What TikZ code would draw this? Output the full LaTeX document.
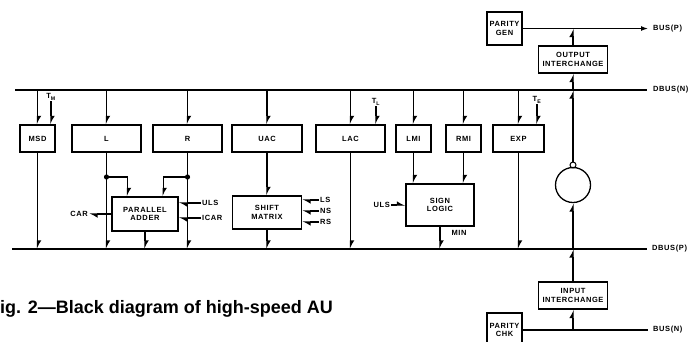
\documentclass[tikz,border=0pt]{standalone}
\usepackage{fontspec}
\setmainfont{Liberation Sans}
\newfontfamily\lblfont[LetterSpace=8]{Liberation Sans}
\usetikzlibrary{positioning,arrows.meta,calc}

\begin{document}
\begin{tikzpicture}[x=1pt,y=-1pt,
  font=\lblfont\bfseries\fontsize{7.5}{8.5}\selectfont,
  blk/.style={draw,line width=1.3pt,minimum height=27pt,inner sep=1pt,align=center},
  a/.style={-{Latex[harpoon,length=7pt,width=8pt]},line width=1.2pt},
  ln/.style={line width=1.2pt},
  bus/.style={line width=1.3pt},
  lbl/.style={inner sep=1pt}
]
\clip (0,0) rectangle (696,341);
% buses
\coordinate (nw) at (15,90); \coordinate (ne) at (647,90);
\coordinate (pw) at (12,249); \coordinate (pe) at (647,249);
\coordinate (bpe) at (648,28.5); \coordinate (bpn) at (648,330);
\draw[bus] (nw) -- (ne); \draw[bus] (pw) -- (pe);
\node[lbl,anchor=west] (dbn) at ($(ne)+(5,0)$) {DBUS(N)};
\node[lbl,anchor=west] (dbp) at ($(pe)+(4,0)$) {DBUS(P)};
\node[lbl,anchor=west] (bp) at ($(bpe)+(4,0)$) {BUS(P)};
\node[lbl,anchor=west] (bn) at ($(bpn)+(4,0)$) {BUS(N)};
% registers
\node[blk,minimum width=35pt] (msd) at (37.5,138.5) {MSD};
\node[blk,minimum width=69pt] (l) at (106.5,138.5) {L};
\node[blk,minimum width=69pt] (r) at (187.5,138.5) {R};
\node[blk,minimum width=70pt] (uac) at (267,138.5) {UAC};
\node[blk,minimum width=69pt] (lac) at (350.5,138.5) {LAC};
\node[blk,minimum width=35pt] (lmi) at (413.5,138.5) {LMI};
\node[blk,minimum width=35pt] (rmi) at (463.5,138.5) {RMI};
\node[blk,minimum width=51pt] (exp) at (518.5,138.5) {EXP};
% logic
\node[blk,minimum width=66pt,minimum height=34pt] (add) at (145,214) {PARALLEL\\ADDER};
\node[blk,minimum width=69pt,minimum height=33pt] (shm) at (267,212.5) {SHIFT\\MATRIX};
\node[blk,minimum width=68pt,minimum height=42pt] (sgn) at (440,205) {SIGN\\LOGIC};
\node[blk,minimum width=35pt,minimum height=33pt,inner sep=0pt] (pgen) at (504.5,28.5) {PARITY\\GEN};
\node[blk,minimum width=69pt] (oxc) at (573,59.5) {OUTPUT\\INTERCHANGE};
\node[blk,minimum width=69pt] (ixc) at (573,295.5) {INPUT\\INTERCHANGE};
\node[blk,minimum width=35pt,minimum height=34pt,inner sep=0pt] (pchk) at (504.5,330) {PARITY\\CHK};
\node[draw,circle,line width=1.3pt,minimum size=35pt,inner sep=0] (rot) at (573,185) {};
\node[draw,circle,line width=1pt,minimum size=6pt,inner sep=0] (rng) at (573,165) {};
% timing inputs
\node[lbl] (tm) at (51,97) {T\textsubscript{M}};
\node[lbl] (tl) at (376,102) {T\textsubscript{L}};
\node[lbl] (te) at (537,100) {T\textsubscript{E}};
\draw[a] (tm.south) -- (tm.south |- msd.north);
\draw[a] (tl.south) -- (tl.south |- lac.north);
\draw[a] (te.south) -- (te.south |- exp.north);
% DBUS(N) to registers
\foreach \n in {msd,l,r,uac,lac,lmi,rmi,exp} {\draw[a] (\n |- nw) -- (\n);}
% registers to DBUS(P)
\foreach \n in {msd,lac,exp,add,shm,sgn} {\draw[a] (\n) -- (\n |- pw);}
\coordinate (jl) at (106.5,177); \coordinate (jr) at (187.5,177);
\draw[ln] (l) -- (jl); \draw[ln] (r) -- (jr);
\draw[a] (jl) -- (jl |- pw); \draw[a] (jr) -- (jr |- pw);
\fill (jl) circle (2.6pt); \fill (jr) circle (2.6pt);
\draw[a] (jl) -| ($(add.north west)!0.24!(add.north east)$);
\draw[a] (jr) -| ($(add.north west)!0.77!(add.north east)$);
\draw[a] (uac) -- (shm);
\draw[a] (lmi) -- (lmi |- sgn.north); \draw[a] (rmi) -- (rmi |- sgn.north);
% control lines
\node[lbl,anchor=east] (car) at (89,214) {CAR};
\node[lbl,anchor=west] (ulsa) at (201,203) {ULS};
\node[lbl,anchor=west] (icar) at (201,218) {ICAR};
\draw[a] (add.west) -- (car);
\draw[a] (ulsa) -- (ulsa -| add.east); \draw[a] (icar) -- (icar -| add.east);
\node[lbl,anchor=west] (ls) at (319,200) {LS};
\node[lbl,anchor=west] (ns) at (319,211) {NS};
\node[lbl,anchor=west] (rs) at (319,222) {RS};
\draw[a] (ls) -- (ls -| shm.east); \draw[a] (ns) -- (ns -| shm.east); \draw[a] (rs) -- (rs -| shm.east);
\node[lbl,anchor=east] (ulsb) at (391,205) {ULS};
\draw[a] (ulsb) -- (ulsb -| sgn.west);
\node[lbl,anchor=north] (min) at (459,229) {MIN};
% interchange path
\draw[a] (bpn -| ixc) -- (ixc);
\draw[a] (ixc) -- (ixc |- pw);
\draw[a] (ixc |- pw) -- (rot);
\draw[a] (rng) -- (rng |- nw);
\draw[a] (rng |- nw) -- (oxc);
\draw[a] (oxc) -- (oxc |- bpe);
\draw[bus,-{Latex[length=7pt,width=5pt]}] (pgen.east) -- (bpe);
\draw[bus] (pchk.east) -- (bpn);
% caption
\node[anchor=base west,inner sep=0,font=\normalfont\bfseries\fontsize{18}{20}\selectfont] (cap) at (0,313) {ig. 2---Black diagram of high-speed AU};
\end{tikzpicture}
\end{document}
